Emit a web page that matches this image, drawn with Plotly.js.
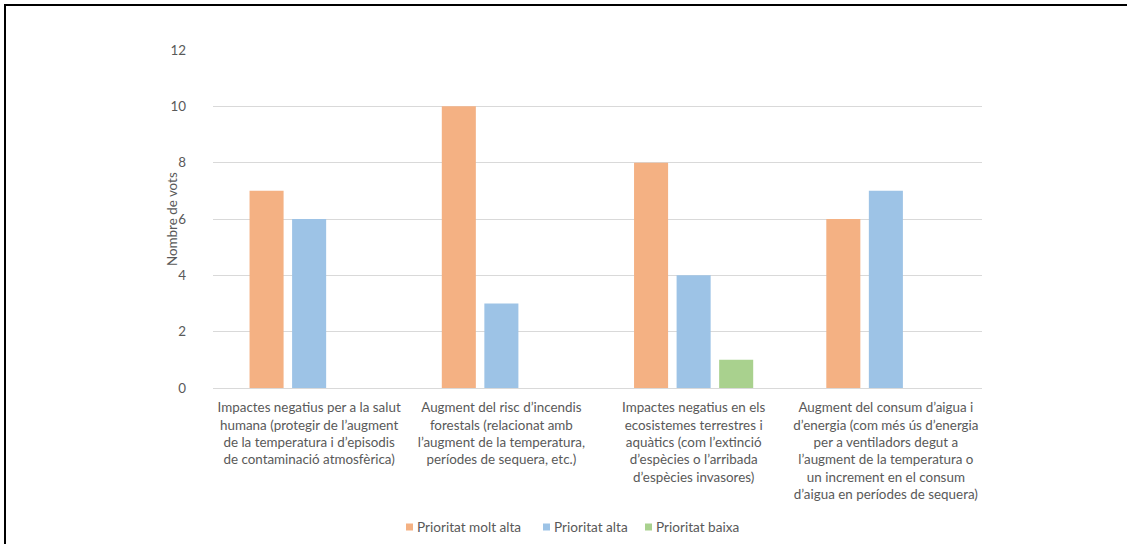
<!DOCTYPE html>
<html>
<head>
<meta charset="utf-8">
<script src="https://cdn.plot.ly/plotly-3.0.1.min.js"></script>
<style>
  html, body { margin: 0; padding: 0; background: #fff; }
  #chart { position: absolute; left: 0; top: 0; width: 1127px; height: 544px; }
  #frame { position: absolute; left: 4px; top: 4px; width: 1123px; height: 540px;
           border-left: 2px solid #000; border-top: 2px solid #000; pointer-events: none; box-sizing: border-box; }
</style>
</head>
<body>
<div id="chart"></div>
<div id="frame"></div>
<script>
const categories = [
  "Impactes negatius per a la salut<br>humana (protegir de l’augment<br>de la temperatura i d’episodis<br>de contaminació atmosfèrica)",
  "Augment del risc d’incendis<br>forestals (relacionat amb<br>l’augment de la temperatura,<br>períodes de sequera, etc.)",
  "Impactes negatius en els<br>ecosistemes terrestres i<br>aquàtics (com l’extinció<br>d’espècies o l’arribada<br>d’espècies invasores)",
  "Augment del consum d’aigua i<br>d’energia (com més ús d’energia<br>per a ventiladors degut a<br>l’augment de la temperatura o<br>un increment en el consum<br>d’aigua en períodes de sequera)"
];
const seriesNames = ["Prioritat molt alta", "Prioritat alta", "Prioritat baixa"];
const molAlta = [7, 10, 8, 6];
const alta = [6, 3, 4, 7];
const baixa = [0, 0, 1, 0];
const colors = ["#F4B183", "#9DC3E6", "#A9D18E"];

const font = "Lato, 'Open Sans', sans-serif";
const txt = "#595959";

const traces = [molAlta, alta, baixa].map((vals, i) => ({
  type: "bar",
  name: seriesNames[i],
  x: categories,
  y: vals,
  marker: { color: colors[i] },
  hoverinfo: "y+name",
  showlegend: false
}));

// plot area in pixels (for converting legend layout positions)
const L = 213, R = 982, T = 50, B = 388;
const px = v => (v - L) / (R - L);
const py = v => (B - v) / (B - T);

// custom legend (Excel-like compact layout)
const legendX = [406, 543, 645];   // square left edges, px
const legendY = 527;               // legend centre line, px
const shapes = [], annotations = [];
seriesNames.forEach((name, i) => {
  shapes.push({
    type: "rect", xref: "paper", yref: "paper",
    x0: px(legendX[i]), x1: px(legendX[i] + 7),
    y0: py(legendY + 3.5), y1: py(legendY - 3.5),
    fillcolor: colors[i], line: { width: 0 }
  });
  annotations.push({
    xref: "paper", yref: "paper",
    x: px(legendX[i] + 9), y: py(legendY),
    xanchor: "left", yanchor: "middle",
    text: name, showarrow: false,
    font: { family: font, size: 13.6, color: txt }
  });
});
annotations.push({
  xref: "paper", yref: "paper",
  x: px(172), y: py(219),
  xanchor: "center", yanchor: "middle",
  text: "Nombre de vots", textangle: -90, showarrow: false,
  font: { family: font, size: 13.4, color: txt }
});

const layout = {
  width: 1127, height: 544,
  margin: { l: L, r: 1127 - R, t: T, b: 544 - B },
  paper_bgcolor: "#fff", plot_bgcolor: "#fff",
  font: { family: font, size: 13, color: txt },
  barmode: "group",
  bargap: 0.336,
  bargroupgap: 0.2,
  showlegend: false,
  shapes: shapes,
  annotations: annotations,
  xaxis: {
    type: "category",
    showgrid: false,
    showline: true, linecolor: "#D9D9D9", linewidth: 1,
    ticks: "",
    tickangle: 0,
    ticklabelstandoff: 7,
    tickfont: { family: font, size: 13.4, color: txt },
    automargin: false
  },
  yaxis: {
    range: [0, 12],
    dtick: 2,
    showgrid: true, gridcolor: "#D9D9D9", gridwidth: 1,
    zeroline: false,
    showline: false,
    ticks: "",
    ticklabelstandoff: 26,
    tickfont: { family: font, size: 13.4, color: txt },
    automargin: false
  }
};

Plotly.newPlot("chart", traces, layout, { displayModeBar: false, staticPlot: true });
</script>
</body>
</html>
